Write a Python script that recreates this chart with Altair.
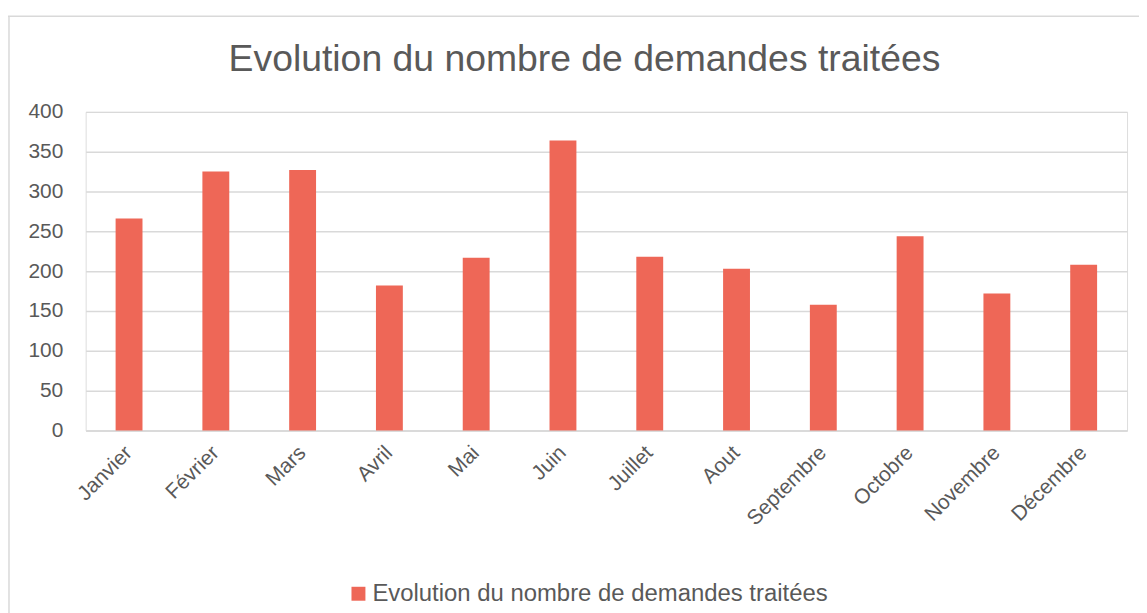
import altair as alt
import pandas as pd

months = ["Janvier", "Février", "Mars", "Avril", "Mai", "Juin", "Juillet",
          "Aout", "Septembre", "Octobre", "Novembre", "Décembre"]
values = [266, 325, 327, 182, 217, 364, 218, 203, 158, 244, 172, 208]
series_name = "Evolution du nombre de demandes traitées"
title_text = "Evolution du nombre de demandes traitées"

df = pd.DataFrame({"Mois": months, "Valeur": values, "Serie": [series_name] * len(months)})

TEXT = "#595959"
GRID = "#D9D9D9"
BAR = "#EE6757"
FONT = "Liberation Sans"

W, H = 1046, 320
PL, PT = 78, 103

bars = alt.Chart(df).mark_bar(size=27, color=BAR).encode(
    x=alt.X("Mois:N", sort=months, title=None,
            scale=alt.Scale(paddingInner=0.69, paddingOuter=0.345),
            axis=alt.Axis(labelAngle=-45, labelFontSize=21, labelColor=TEXT,
                          labelFont=FONT, ticks=False, domainColor=GRID,
                          domainWidth=1.5, labelPadding=19, labelAlign="right",
                          labelBaseline="middle")),
    y=alt.Y("Valeur:Q", title=None,
            scale=alt.Scale(domain=[0, 400]),
            axis=alt.Axis(values=list(range(0, 401, 50)), labelFontSize=21,
                          labelColor=TEXT, labelFont=FONT, ticks=False,
                          domain=False, gridColor=GRID, gridWidth=1.5,
                          labelPadding=23)),
    color=alt.Color("Serie:N", scale=alt.Scale(range=[BAR]), title=None,
                    legend=alt.Legend(orient="none", legendX=262, legendY=472,
                                      symbolType="square", symbolSize=196,
                                      symbolStrokeWidth=0,
                                      labelFontSize=24, labelColor=TEXT,
                                      labelFont=FONT, labelLimit=700,
                                      labelOffset=2)),
)

title_df = pd.DataFrame({"t": [title_text]})
title = alt.Chart(title_df).mark_text(
    fontSize=37.5, font=FONT, color=TEXT, align="center", baseline="alphabetic"
).encode(text="t:N", x=alt.value(501), y=alt.value(-41))

top_line = alt.Chart(title_df).mark_rule(color=GRID, strokeWidth=1.5).encode(
    x=alt.value(-78), x2=alt.value(W + 20), y=alt.value(-96))
left_line = alt.Chart(title_df).mark_rule(color=GRID, strokeWidth=1.5).encode(
    x=alt.value(-77), y=alt.value(-96), y2=alt.value(H + 200))

chart = alt.layer(top_line, left_line, bars, title).properties(
    width=W, height=H,
    autosize=alt.AutoSizeParams(type="none"),
    padding={"left": PL, "top": PT, "right": 12, "bottom": 182},
).configure_view(stroke=None).configure(background="white")

chart.save("out.html", embed_options={"renderer": "svg", "actions": False})
